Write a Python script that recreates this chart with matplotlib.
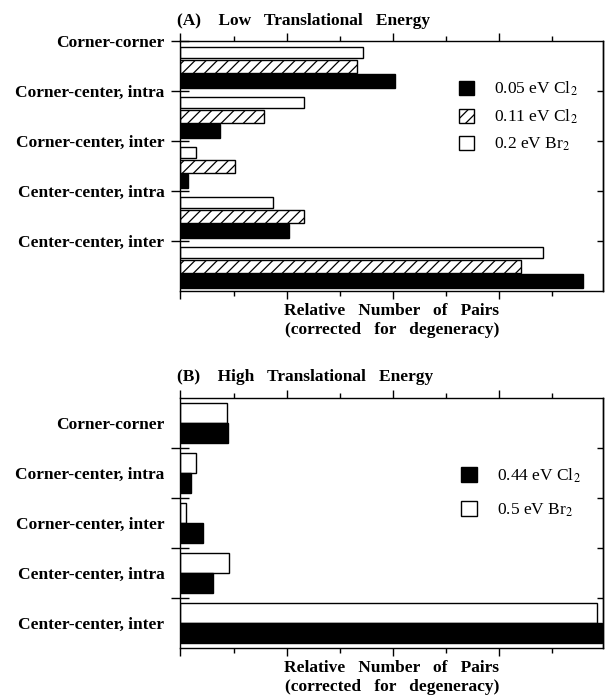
import numpy as np
import matplotlib
matplotlib.use("Agg")
import matplotlib.pyplot as plt
from matplotlib.patches import Patch

plt.rcParams['font.family'] = ['Liberation Serif', 'DejaVu Serif']
plt.rcParams['mathtext.fontset'] = 'stix'
plt.rcParams['hatch.linewidth'] = 0.9

# pair types (top to bottom)
categories = ["Corner-corner", "Corner-center, intra", "Corner-center, inter",
              "Center-center, intra", "Center-center, inter"]

# (A) low translational energy, relative number of pairs
low_cl2_005 = [2.02, 0.37, 0.07, 1.02, 3.79]
low_cl2_011 = [1.665, 0.79, 0.51, 1.16, 3.21]
low_br2_02 = [1.72, 1.16, 0.15, 0.87, 3.42]

# (B) high translational energy
high_cl2_044 = [0.45, 0.10, 0.21, 0.31, 3.97]
high_br2_05 = [0.44, 0.15, 0.05, 0.46, 3.92]

lab_fs = 12.5
y = np.arange(len(categories))

fig = plt.figure(figsize=(6.05, 6.95), dpi=100)
axA = fig.add_axes([0.2983, 0.5813, 0.6983, 0.3597])
axB = fig.add_axes([0.2983, 0.0676, 0.6983, 0.3597])


def style_axes(ax):
    ax.set_xlim(0, 3.98)
    ax.set_ylim(5, 0)
    for s in ax.spines.values():
        s.set_linewidth(1.0)
    ax.set_xticks([0, 1, 2, 3])
    ax.set_xticks([0.5, 1.5, 2.5, 3.5], minor=True)
    ax.tick_params(axis='x', which='both', top=True, bottom=True,
                   direction='out', labelbottom=False, width=1.0)
    ax.tick_params(axis='x', which='major', length=6)
    ax.tick_params(axis='x', which='minor', length=3.5)
    sec = ax.secondary_yaxis('right')
    sec.set_yticks([1, 2, 3, 4])
    sec.tick_params(direction='in', length=4, width=1.0, labelright=False)
    sec.spines['right'].set_linewidth(1.0)
    ax.text(0.5, -0.08, "Relative   Number   of   Pairs", transform=ax.transAxes,
            ha='center', va='center', fontsize=lab_fs, fontweight='bold')
    ax.text(0.5, -0.155, "(corrected   for   degeneracy)", transform=ax.transAxes,
            ha='center', va='center', fontsize=lab_fs, fontweight='bold')


# ---- panel A ----
axA.barh(y + 0.23, low_br2_02, height=0.23, color='white', edgecolor='black', linewidth=1.0)
axA.barh(y + 0.51, low_cl2_011, height=0.26, color='white', edgecolor='black',
         linewidth=1.0, hatch='///')
axA.barh(y + 0.80, low_cl2_005, height=0.28, color='black', edgecolor='black', linewidth=1.0)
style_axes(axA)
axA.set_yticks(y)
axA.set_yticklabels(categories, fontsize=lab_fs, fontweight='bold')
axA.tick_params(axis='y', direction='inout', length=13, width=1.0, pad=5)
axA.text(-0.008, 1.08, "(A)    Low   Translational   Energy", transform=axA.transAxes,
         ha='left', va='center', fontsize=lab_fs, fontweight='bold')

hA = [Patch(facecolor='black', edgecolor='black'),
      Patch(facecolor='white', edgecolor='black', hatch='///'),
      Patch(facecolor='white', edgecolor='black')]
axA.legend(hA, [r'0.05 eV Cl$_2$', r'0.11 eV Cl$_2$', r'0.2 eV Br$_2$'],
           loc='upper left', bbox_to_anchor=(0.659, 0.845), frameon=False,
           fontsize=lab_fs, handlelength=0.86, handleheight=0.86,
           handletextpad=1.15, labelspacing=0.55, borderpad=0, borderaxespad=0)

# ---- panel B ----
axB.barh(y + 0.3, high_br2_05, height=0.4, color='white', edgecolor='black', linewidth=1.0)
axB.barh(y + 0.7, high_cl2_044, height=0.4, color='black', edgecolor='black', linewidth=1.0)
style_axes(axB)
axB.set_yticks(y + 0.5)
axB.set_yticklabels(categories, fontsize=lab_fs, fontweight='bold')
axB.tick_params(axis='y', which='major', length=0, pad=11.5)
axB.set_yticks([1, 2, 3, 4], minor=True)
axB.tick_params(axis='y', which='minor', direction='inout', length=13, width=1.0)
axB.text(-0.008, 1.084, "(B)    High   Translational   Energy", transform=axB.transAxes,
         ha='left', va='center', fontsize=lab_fs, fontweight='bold')

hB = [Patch(facecolor='black', edgecolor='black'),
      Patch(facecolor='white', edgecolor='black')]
axB.legend(hB, [r'0.44 eV Cl$_2$', r'0.5 eV Br$_2$'],
           loc='upper left', bbox_to_anchor=(0.664, 0.725), frameon=False,
           fontsize=lab_fs, handlelength=0.95, handleheight=0.95,
           handletextpad=1.1, labelspacing=0.93, borderpad=0, borderaxespad=0)

fig.savefig("out.png", dpi=100)
